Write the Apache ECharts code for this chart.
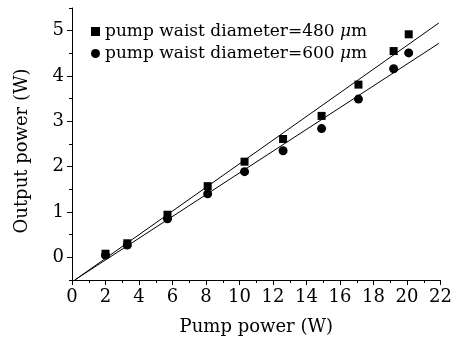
<!DOCTYPE html>
<html>
<head>
<meta charset="utf-8">
<script src="https://cdn.jsdelivr.net/npm/echarts@6/dist/echarts.min.js"></script>
<style>
  html, body { margin: 0; padding: 0; background: #fff; }
  #chart { width: 455px; height: 343px; }
</style>
</head>
<body>
<div id="chart"></div>
<script>
// measured points
var pumpPower = [2.0, 3.3, 5.7, 8.1, 10.3, 12.6, 14.9, 17.1, 19.2, 20.1];
var out480 = [0.08, 0.31, 0.94, 1.57, 2.11, 2.61, 3.12, 3.81, 4.55, 4.92];
var out600 = [0.05, 0.27, 0.85, 1.40, 1.89, 2.35, 2.84, 3.49, 4.16, 4.51];

// fitted lines, end points
var fit480 = [[0.17, -0.5], [21.9, 5.17]];
var fit600 = [[0.16, -0.5], [21.9, 4.72]];

var yTicks = [0, 1, 2, 3, 4, 5];

var name480 = 'pump waist diameter=480 μm';
var name600 = 'pump waist diameter=600 μm';

var font = 'DejaVu Serif';

function pairs(xs, ys) {
  return xs.map(function (x, i) { return [x, ys[i]]; });
}

var chart = echarts.init(document.getElementById('chart'));

var option = {
  animation: false,
  backgroundColor: '#fff',
  textStyle: { fontFamily: font, color: '#000' },
  grid: { left: 72, right: 13, top: 8, bottom: 63 },
  legend: {
    data: [name480, name600],
    orient: 'vertical',
    left: 86,
    top: 17,
    itemGap: 3,
    itemWidth: 9,
    itemHeight: 9,
    textStyle: {
      fontFamily: font,
      fontSize: 17,
      lineHeight: 19,
      color: '#000',
      rich: {
        i: { fontFamily: font, fontStyle: 'italic', fontSize: 17, color: '#000' }
      }
    },
    formatter: function (n) {
      var parts = n.split('μ');
      return parts[0] + '{i|μ}' + parts[1];
    }
  },
  xAxis: {
    type: 'value',
    min: 0,
    max: 22,
    interval: 2,
    name: 'Pump power (W)',
    nameLocation: 'middle',
    nameGap: 38,
    nameTextStyle: { fontFamily: font, fontSize: 18, color: '#000' },
    axisLine: { onZero: false, lineStyle: { color: '#000', width: 1 } },
    axisTick: { inside: false, length: 5, lineStyle: { color: '#000' } },
    minorTick: { show: true, splitNumber: 2, length: 3, lineStyle: { color: '#000' } },
    axisLabel: { fontFamily: font, fontSize: 18, color: '#000', margin: 8 },
    splitLine: { show: false }
  },
  yAxis: [
    {
      type: 'value',
      min: -0.5,
      max: 5.5,
      interval: 0.5,
      axisLine: { show: true, onZero: false, lineStyle: { color: '#000', width: 1 } },
      axisTick: { inside: false, length: 3, lineStyle: { color: '#000' } },
      axisLabel: { show: false },
      splitLine: { show: false }
    },
    {
      type: 'value',
      position: 'left',
      min: -0.5,
      max: 5.5,
      name: 'Output power (W)',
      nameLocation: 'middle',
      nameGap: 41,
      nameTextStyle: { fontFamily: font, fontSize: 18, color: '#000', padding: [0, 0, 0, -14] },
      axisLine: { show: false, onZero: false },
      axisTick: { show: true, customValues: yTicks, length: 5, lineStyle: { color: '#000' } },
      axisLabel: { customValues: yTicks, fontFamily: font, fontSize: 18, color: '#000', margin: 8 },
      splitLine: { show: false }
    }
  ],
  series: [
    {
      type: 'line',
      data: fit480,
      showSymbol: false,
      symbol: 'none',
      lineStyle: { color: '#000', width: 1 },
      silent: true
    },
    {
      type: 'line',
      data: fit600,
      showSymbol: false,
      symbol: 'none',
      lineStyle: { color: '#000', width: 1 },
      silent: true
    },
    {
      name: name480,
      type: 'scatter',
      symbol: 'rect',
      symbolSize: 8,
      itemStyle: { color: '#000', opacity: 1 },
      data: pairs(pumpPower, out480)
    },
    {
      name: name600,
      type: 'scatter',
      symbol: 'circle',
      symbolSize: 9,
      itemStyle: { color: '#000', opacity: 1 },
      data: pairs(pumpPower, out600)
    }
  ]
};

chart.setOption(option);
</script>
</body>
</html>
